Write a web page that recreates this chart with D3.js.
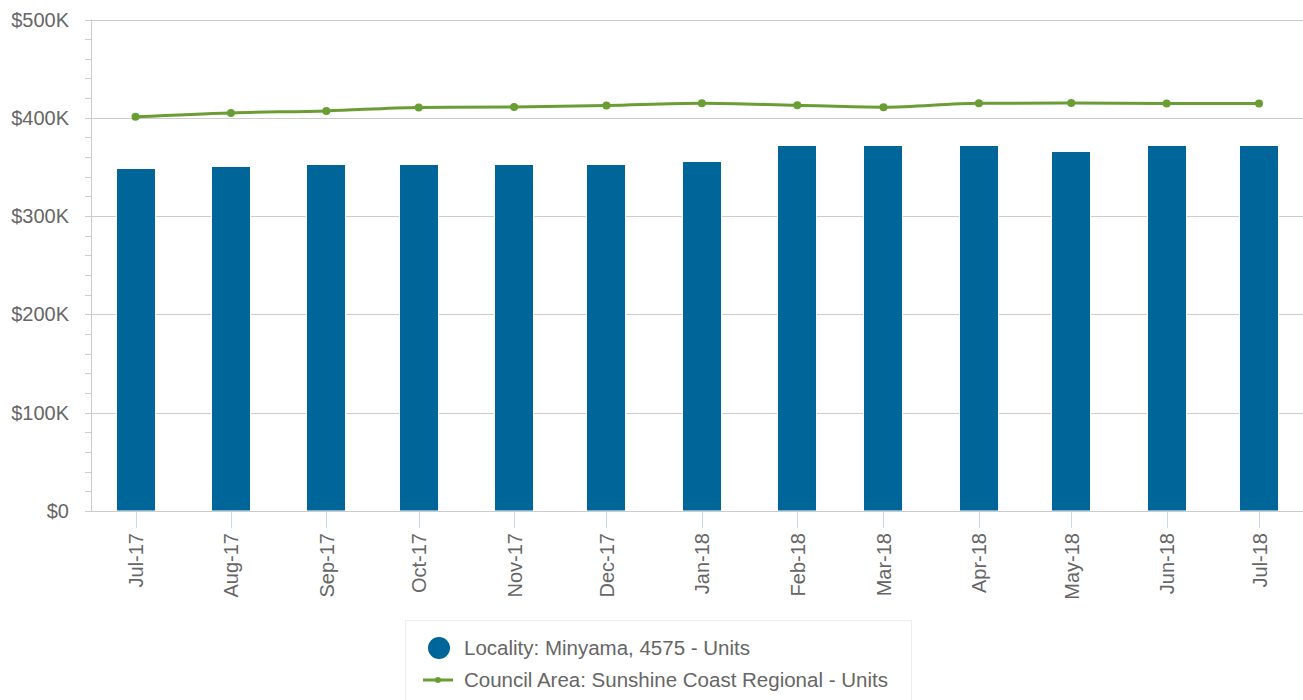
<!DOCTYPE html>
<html>
<head>
<meta charset="utf-8">
<script src="https://cdn.jsdelivr.net/npm/d3@7"></script>
<style>
  body { margin: 0; background: #fff; }
  svg { display: block; font-family: "Liberation Sans", Arial, sans-serif; }
</style>
</head>
<body>
<svg id="chart" width="1303" height="700"></svg>
<script>
const monthDates = ['2017-07-01', '2017-08-01', '2017-09-01', '2017-10-01', '2017-11-01', '2017-12-01',
    '2018-01-01', '2018-02-01', '2018-03-01', '2018-04-01', '2018-05-01', '2018-06-01', '2018-07-01'];
const localityValues = [349000, 351000, 353000, 353000, 353000, 353000, 356500,
    372000, 372000, 372000, 366000, 372000, 372000];
const councilValues = [401000, 405000, 407000, 410500, 411000, 412500, 414800,
    412700, 410800, 414800, 415000, 414500, 414500];
const yTicks = [0, 100000, 200000, 300000, 400000, 500000];
const seriesNames = ['Locality: Minyama, 4575 - Units', 'Council Area: Sunshine Coast Regional - Units'];

const svg = d3.select('#chart');
const plot = {left: 91, right: 1303, top: 19.5, bottom: 511};
const barColor = '#00669a';
const lineColor = '#6b9d35';
const textColor = '#666666';

const dates = monthDates.map(d => new Date(d + 'T00:00:00Z'));
const fmt = d3.utcFormat('%b-%y');

// datetime axis, so the month spacing follows the number of days
const x = d3.scaleUtc().domain(d3.extent(dates)).range([135.5, 1259]);
const y = d3.scaleLinear().domain([0, 500000]).range([plot.bottom, plot.top]);

// minor ticks on the y axis
const minor = d3.range(0, 500001, 20000);
svg.append('g').selectAll('line')
    .data(minor)
    .enter().append('line')
    .attr('x1', plot.left - 6).attr('x2', plot.left)
    .attr('y1', d => Math.round(y(d)) + 0.5).attr('y2', d => Math.round(y(d)) + 0.5)
    .attr('stroke', '#cccccc');

// grid lines
svg.append('g').selectAll('line')
    .data(yTicks.filter(d => d > 0))
    .enter().append('line')
    .attr('x1', plot.left - 6).attr('x2', plot.right)
    .attr('y1', d => Math.round(y(d)) + 0.5).attr('y2', d => Math.round(y(d)) + 0.5)
    .attr('stroke', '#cccccc');

// y axis line
svg.append('line')
    .attr('x1', plot.left + 0.5).attr('x2', plot.left + 0.5)
    .attr('y1', plot.top).attr('y2', plot.bottom)
    .attr('stroke', '#cccccc');

// y labels
svg.append('g').selectAll('text')
    .data(yTicks)
    .enter().append('text')
    .attr('x', 69)
    .attr('y', d => y(d) + 7)
    .attr('text-anchor', 'end')
    .attr('font-size', '20px')
    .attr('fill', textColor)
    .text(d => d === 0 ? '$0' : `$${d / 1000}K`);

// bars
svg.append('g').selectAll('rect')
    .data(localityValues)
    .enter().append('rect')
    .attr('x', (d, i) => Math.round(x(dates[i]) - 20) + 0.5)
    .attr('y', d => Math.round(y(d)) + 0.5)
    .attr('width', 39)
    .attr('height', d => plot.bottom - Math.round(y(d)) - 0.5)
    .attr('fill', barColor)
    .attr('stroke', '#ffffff')
    .attr('stroke-width', 1);

// x axis line
svg.append('line')
    .attr('x1', plot.left - 6).attr('x2', plot.right)
    .attr('y1', plot.bottom + 0.5).attr('y2', plot.bottom + 0.5)
    .attr('stroke', '#cccccc');

// x ticks
svg.append('g').selectAll('line')
    .data(dates)
    .enter().append('line')
    .attr('x1', d => Math.round(x(d)) + 0.5).attr('x2', d => Math.round(x(d)) + 0.5)
    .attr('y1', plot.bottom + 1).attr('y2', plot.bottom + 17)
    .attr('stroke', '#ccd6eb');

// x labels
svg.append('g').selectAll('text')
    .data(dates)
    .enter().append('text')
    .attr('transform', d => `translate(${x(d) + 7.5}, 533) rotate(-90)`)
    .attr('text-anchor', 'end')
    .attr('font-size', '20px')
    .attr('fill', textColor)
    .text(d => fmt(d));

// council line
const line = d3.line()
    .x((d, i) => x(dates[i]))
    .y(d => y(d))
    .curve(d3.curveMonotoneX);

svg.append('path')
    .datum(councilValues)
    .attr('fill', 'none')
    .attr('stroke', lineColor)
    .attr('stroke-width', 3)
    .attr('stroke-linejoin', 'round')
    .attr('d', line);

svg.append('g').selectAll('circle')
    .data(councilValues)
    .enter().append('circle')
    .attr('cx', (d, i) => x(dates[i]))
    .attr('cy', d => y(d))
    .attr('r', 4)
    .attr('fill', lineColor);

// legend
const legend = svg.append('g');
legend.append('rect')
    .attr('x', 405.5).attr('y', 620.5)
    .attr('width', 506).attr('height', 100)
    .attr('fill', '#ffffff')
    .attr('stroke', '#eeeeee');

legend.append('circle')
    .attr('cx', 439).attr('cy', 648)
    .attr('r', 11)
    .attr('fill', barColor);

legend.append('text')
    .attr('x', 464).attr('y', 655)
    .attr('font-size', '20.5px')
    .attr('fill', textColor)
    .text(seriesNames[0]);

legend.append('line')
    .attr('x1', 423).attr('x2', 453)
    .attr('y1', 680).attr('y2', 680)
    .attr('stroke', lineColor)
    .attr('stroke-width', 3);

legend.append('circle')
    .attr('cx', 438).attr('cy', 680)
    .attr('r', 3)
    .attr('fill', lineColor);

legend.append('text')
    .attr('x', 464).attr('y', 687)
    .attr('font-size', '20.5px')
    .attr('fill', textColor)
    .text(seriesNames[1]);
</script>
</body>
</html>
